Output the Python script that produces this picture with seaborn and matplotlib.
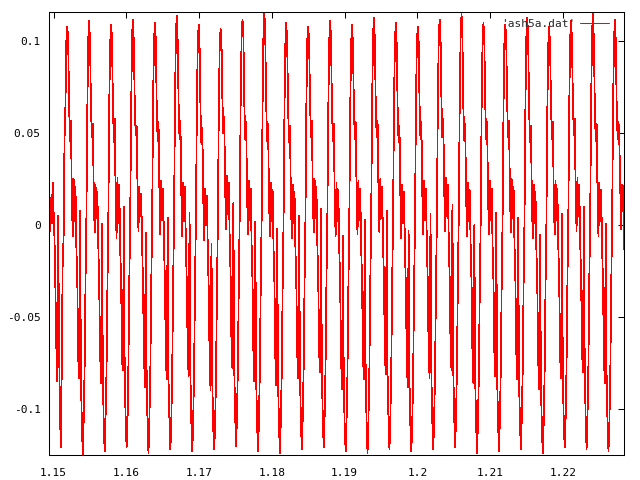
import numpy as np
import pandas as pd
import matplotlib
matplotlib.use("Agg")
import matplotlib.pyplot as plt
from matplotlib.ticker import FuncFormatter
import seaborn as sns

# sample grid of ash5a.dat (about 8 kHz)
t_start = 1.14938
dt = 0.0001254

# samples before the first peak
head = [0.053, -0.003, 0.012, 0.001, 0.023, 0.008, -0.007, -0.034, -0.065, -0.085,
        0.005, -0.063, -0.102, -0.121, -0.076, -0.018, -0.007, 0.047, 0.065, 0.100]

# one row per period, each starting at its peak
periods = [
    [0.108, 0.101, 0.066, 0.046, 0.057, 0.017, -0.006, 0.025, 0.002, 0.021, -0.012, -0.030, -0.072, -0.083, 0.008, -0.084, -0.108, -0.125, -0.106, -0.078, -0.031, 0.005, 0.064, 0.101],
    [0.111, 0.099, 0.063, 0.048, 0.055, 0.019, -0.004, 0.022, 0.004, 0.018, -0.010, -0.033, -0.069, -0.086, 0.001, -0.080, -0.110, -0.123, -0.104, -0.080, -0.034, 0.003, 0.066, 0.098],
    [0.109, 0.102, 0.067, 0.045, 0.058, 0.016, -0.007, 0.026, 0.001, 0.022, -0.013, -0.029, -0.074, -0.079, 0.010, -0.086, -0.105, -0.121, -0.108, -0.076, -0.030, 0.006, 0.062, 0.103],
    [0.112, 0.098, 0.064, 0.049, 0.054, 0.020, -0.003, 0.021, 0.005, 0.017, -0.009, -0.034, -0.068, -0.088, -0.004, -0.082, -0.109, -0.124, -0.105, -0.081, -0.033, 0.002, 0.067, 0.099],
    [0.110, 0.101, 0.065, 0.046, 0.056, 0.018, -0.005, 0.024, 0.003, 0.020, -0.011, -0.031, -0.071, -0.084, 0.004, -0.085, -0.107, -0.122, -0.107, -0.079, -0.032, 0.004, 0.065, 0.104],
    [0.114, 0.100, 0.066, 0.047, 0.057, 0.017, -0.006, 0.023, 0.002, 0.021, -0.012, -0.032, -0.070, -0.082, 0.007, -0.083, -0.108, -0.123, -0.106, -0.078, -0.031, 0.005, 0.064, 0.100],
    [0.109, 0.097, 0.062, 0.044, 0.053, 0.015, -0.008, 0.020, 0.000, 0.016, -0.014, -0.035, -0.073, -0.090, -0.010, -0.087, -0.111, -0.122, -0.109, -0.082, -0.035, 0.001, 0.061, 0.097],
    [0.107, 0.100, 0.068, 0.050, 0.059, 0.021, -0.002, 0.027, 0.006, 0.023, -0.008, -0.028, -0.067, -0.078, 0.012, -0.079, -0.104, -0.120, -0.103, -0.075, -0.029, 0.007, 0.068, 0.102],
    [0.112, 0.103, 0.066, 0.047, 0.056, 0.018, -0.005, 0.024, 0.003, 0.020, -0.011, -0.031, -0.071, -0.085, 0.002, -0.084, -0.108, -0.123, -0.107, -0.079, -0.032, 0.004, 0.065, 0.106],
    [0.116, 0.101, 0.065, 0.046, 0.055, 0.017, -0.006, 0.023, 0.002, 0.019, -0.012, -0.032, -0.072, -0.087, -0.002, -0.086, -0.109, -0.124, -0.106, -0.080, -0.033, 0.003, 0.064, 0.099],
    [0.110, 0.098, 0.063, 0.045, 0.054, 0.016, -0.007, 0.022, 0.001, 0.018, -0.013, -0.033, -0.070, -0.083, 0.005, -0.082, -0.107, -0.122, -0.105, -0.078, -0.031, 0.005, 0.066, 0.101],
    [0.108, 0.100, 0.067, 0.048, 0.057, 0.019, -0.004, 0.025, 0.004, 0.021, -0.010, -0.030, -0.069, -0.080, 0.009, -0.081, -0.106, -0.121, -0.104, -0.077, -0.030, 0.006, 0.063, 0.100],
    [0.111, 0.102, 0.064, 0.046, 0.055, 0.017, -0.006, 0.023, 0.002, 0.019, -0.012, -0.032, -0.072, -0.089, -0.006, -0.088, -0.110, -0.123, -0.107, -0.081, -0.034, 0.002, 0.062, 0.098],
    [0.109, 0.099, 0.066, 0.047, 0.056, 0.018, -0.005, 0.024, 0.003, 0.020, -0.011, -0.031, -0.071, -0.084, 0.003, -0.084, -0.108, -0.124, -0.106, -0.079, -0.032, 0.004, 0.065, 0.103],
    [0.113, 0.101, 0.065, 0.048, 0.057, 0.019, -0.004, 0.025, 0.004, 0.021, -0.010, -0.030, -0.070, -0.081, 0.008, -0.082, -0.107, -0.122, -0.105, -0.078, -0.031, 0.005, 0.066, 0.100],
    [0.110, 0.098, 0.063, 0.045, 0.054, 0.016, -0.007, 0.022, 0.001, 0.018, -0.013, -0.034, -0.073, -0.088, -0.003, -0.086, -0.110, -0.123, -0.108, -0.081, -0.034, 0.002, 0.063, 0.099],
    [0.108, 0.100, 0.066, 0.047, 0.056, 0.018, -0.005, 0.024, 0.003, 0.020, -0.011, -0.031, -0.071, -0.083, 0.006, -0.083, -0.107, -0.122, -0.106, -0.079, -0.032, 0.004, 0.065, 0.102],
    [0.112, 0.102, 0.067, 0.048, 0.058, 0.020, -0.003, 0.026, 0.005, 0.022, -0.009, -0.029, -0.068, -0.079, 0.011, -0.080, -0.105, -0.121, -0.104, -0.076, -0.029, 0.007, 0.067, 0.104],
    [0.115, 0.101, 0.064, 0.046, 0.055, 0.017, -0.006, 0.023, 0.002, 0.019, -0.012, -0.032, -0.072, -0.086, 0.000, -0.085, -0.109, -0.124, -0.107, -0.080, -0.033, 0.003, 0.064, 0.100],
    [0.110, 0.099, 0.065, 0.047, 0.056, 0.018, -0.005, 0.024, 0.003, 0.020, -0.011, -0.031, -0.070, -0.082, 0.007, -0.083, -0.107, -0.123, -0.106, -0.078, -0.031, 0.005, 0.065, 0.101],
    [0.109, 0.100, 0.066, 0.048, 0.057, 0.019, -0.004, 0.025, 0.004, 0.021, -0.010, -0.030, -0.069, -0.084, 0.004, -0.084, -0.108, -0.122, -0.105, -0.079, -0.032, 0.004, 0.066, 0.102],
    [0.113, 0.102, 0.064, 0.045, 0.054, 0.016, -0.007, 0.022, 0.001, 0.018, -0.013, -0.033, -0.073, -0.089, -0.005, -0.087, -0.110, -0.124, -0.108, -0.081, -0.034, 0.002, 0.063, 0.098],
    [0.108, 0.098, 0.066, 0.047, 0.056, 0.018, -0.005, 0.024, 0.003, 0.020, -0.011, -0.031, -0.071, -0.083, 0.006, -0.083, -0.107, -0.121, -0.106, -0.078, -0.031, 0.005, 0.065, 0.101],
    [0.111, 0.101, 0.067, 0.049, 0.058, 0.020, -0.003, 0.026, 0.005, 0.022, -0.009, -0.029, -0.068, -0.080, 0.010, -0.080, -0.105, -0.122, -0.104, -0.076, -0.029, 0.007, 0.067, 0.105],
    [0.115, 0.100, 0.065, 0.046, 0.055, 0.017, -0.006, 0.023, 0.002, 0.019, -0.012, -0.032, -0.072, -0.086, 0.001, -0.085, -0.109, -0.123, -0.107, -0.080, -0.033, 0.003, 0.064, 0.100],
]

# last peak and the samples after it
tail = [0.112, 0.100, 0.064, 0.047, 0.056, 0.043, 0.018, -0.002, 0.022, 0.021, -0.013]

amp = head + [v for row in periods for v in row] + tail
t = t_start + dt * np.arange(len(amp))
df = pd.DataFrame({"t": t, "amp": amp})

sns.set_style("white")
plt.rcParams["font.family"] = ["DejaVu Sans Mono", "DejaVu Sans"]
plt.rcParams["font.size"] = 8

fig = plt.figure(figsize=(6.4, 4.8), dpi=100)
ax = fig.add_axes([49 / 640, 1 - 455 / 480, 575 / 640, 443 / 480])

sns.lineplot(data=df, x="t", y="amp", color="red", linewidth=0.55,
             estimator=None, sort=False, ax=ax, label="'ash5a.dat'",
             antialiased=False)

ax.set_xlim(df["t"].min(), df["t"].max())
ax.set_ylim(df["amp"].min(), df["amp"].max())
ax.set_xticks([1.15, 1.16, 1.17, 1.18, 1.19, 1.2, 1.21, 1.22])
ax.set_yticks([-0.1, -0.05, 0, 0.05, 0.1])
fmt = FuncFormatter(lambda v, p: "%g" % round(v, 4))
ax.xaxis.set_major_formatter(fmt)
ax.yaxis.set_major_formatter(fmt)
ax.tick_params(direction="in", length=4, width=0.75, color="black",
               top=True, right=True, labelsize=8, colors="black")
ax.tick_params(axis="x", pad=9)
ax.tick_params(axis="y", pad=6)
ax.set_xlabel("")
ax.set_ylabel("")
for s in ax.spines.values():
    s.set_color("black")
    s.set_linewidth(0.75)

leg = ax.legend(loc="upper right", frameon=False, markerfirst=False,
                handlelength=2.6, handletextpad=0.4, fontsize=8,
                borderaxespad=0.2, bbox_to_anchor=(0.985, 1.0))
for h in leg.get_lines():
    h.set_linewidth(0.75)

fig.savefig("out.png", dpi=100)
